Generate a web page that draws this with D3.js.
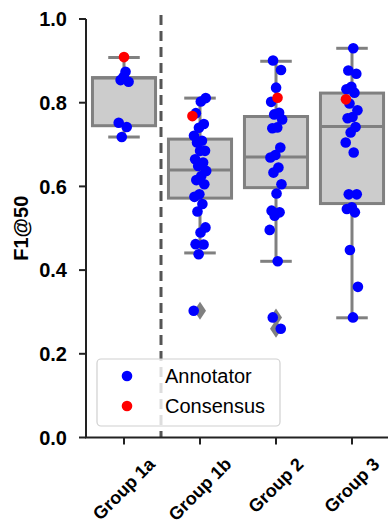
<!DOCTYPE html>
<html>
<head>
<meta charset="utf-8">
<script src="https://cdn.jsdelivr.net/npm/d3@7"></script>
<style>
  html, body { margin: 0; padding: 0; background: #fff; }
  svg { display: block; }
  text { font-family: "Liberation Sans", Arial, Helvetica, sans-serif; }
</style>
</head>
<body>
<svg id="chart" width="388" height="531"></svg>
<script>
// ---------------- data ----------------
const groups = ["Group 1a", "Group 1b", "Group 2", "Group 3"];
const yTicks = [0.0, 0.2, 0.4, 0.6, 0.8, 1.0];

// box statistics
const q1        = [0.745, 0.572, 0.597, 0.559];
const medians   = [0.859, 0.639, 0.670, 0.743];
const q3        = [0.860, 0.713, 0.767, 0.823];
const whiskerLo = [0.718, 0.441, 0.421, 0.286];
const whiskerHi = [0.908, 0.811, 0.899, 0.930];
const fliers1a = [];
const fliers1b = [0.303];
const fliers2  = [0.287, 0.260];
const fliers3  = [];

// annotator scores per group
const annot1a = [0.874, 0.854, 0.850, 0.862, 0.752, 0.742, 0.718];
const annot1b = [0.811, 0.803, 0.775, 0.749, 0.740, 0.721, 0.709, 0.705, 0.685, 0.685,
                 0.665, 0.657, 0.649, 0.637, 0.625, 0.615, 0.605, 0.581, 0.575, 0.558,
                 0.540, 0.502, 0.490, 0.462, 0.461, 0.438, 0.303];
const annot2  = [0.901, 0.878, 0.836, 0.802, 0.776, 0.772, 0.760, 0.741, 0.739, 0.693,
                 0.675, 0.669, 0.645, 0.633, 0.605, 0.583, 0.542, 0.538, 0.530, 0.496,
                 0.421, 0.287, 0.260];
const annot3  = [0.930, 0.877, 0.869, 0.838, 0.832, 0.824, 0.798, 0.782, 0.766, 0.763,
                 0.742, 0.729, 0.705, 0.681, 0.581, 0.581, 0.550, 0.546, 0.538, 0.448,
                 0.360, 0.287];
// consensus score per group
const consensus = [0.909, 0.768, 0.812, 0.808];

const legendLabels = ["Annotator", "Consensus"];

// ---------------- layout ----------------
const svg = d3.select("#chart");

const x = d3.scaleBand().domain(groups).range([86, 390]).paddingInner(0).paddingOuter(0);
const y = d3.scaleLinear().domain([0, 1]).range([437.5, 19]);

const boxW = x.bandwidth() * 0.83;
const grey = "#808080";
const boxFill = "#cccccc";
const annotColor = "#0000ff";
const consColor = "#ff0000";

const annots = [annot1a, annot1b, annot2, annot3];
const fliers = [fliers1a, fliers1b, fliers2, fliers3];

const cx = g => x(g) + x.bandwidth() / 2;

// dashed separator between Group 1a and Group 1b
svg.append("line")
  .attr("x1", x(groups[1]) - 1).attr("x2", x(groups[1]) - 1)
  .attr("y1", y(1) - 4).attr("y2", y(0))
  .attr("stroke", "#555").attr("stroke-width", 3)
  .attr("stroke-dasharray", "10,6");

// boxes
const boxG = svg.append("g");
groups.forEach((g, i) => {
  const c = cx(g);
  const gg = boxG.append("g");
  gg.append("line").attr("x1", c).attr("x2", c).attr("y1", y(q3[i])).attr("y2", y(whiskerHi[i]))
    .attr("stroke", grey).attr("stroke-width", 3);
  gg.append("line").attr("x1", c).attr("x2", c).attr("y1", y(q1[i])).attr("y2", y(whiskerLo[i]))
    .attr("stroke", grey).attr("stroke-width", 3);
  [whiskerHi[i], whiskerLo[i]].forEach(v => {
    gg.append("line").attr("x1", c - boxW / 4).attr("x2", c + boxW / 4)
      .attr("y1", y(v)).attr("y2", y(v))
      .attr("stroke", grey).attr("stroke-width", 3);
  });
  gg.append("rect")
    .attr("x", c - boxW / 2).attr("width", boxW)
    .attr("y", y(q3[i])).attr("height", y(q1[i]) - y(q3[i]))
    .attr("fill", boxFill).attr("stroke", grey).attr("stroke-width", 3);
  gg.append("line").attr("x1", c - boxW / 2).attr("x2", c + boxW / 2)
    .attr("y1", y(medians[i])).attr("y2", y(medians[i]))
    .attr("stroke", grey).attr("stroke-width", 3);
  fliers[i].forEach(v => {
    gg.append("path")
      .attr("d", "M0,-9L6,0L0,9L-6,0Z")
      .attr("transform", `translate(${c},${y(v)})`)
      .attr("fill", grey);
  });
});

// strip points (deterministic jitter)
const jitterW = x.bandwidth() * 0.085;
const jit = k => (((k * 0.6180339887) % 1) - 0.5) * 2 * jitterW;
const ptG = svg.append("g");
groups.forEach((g, i) => {
  const c = cx(g);
  ptG.selectAll(null).data(annots[i]).enter().append("circle")
    .attr("cx", (d, k) => c + jit(k + 1 + i * 7))
    .attr("cy", d => y(d))
    .attr("r", 5.3)
    .attr("fill", annotColor);
});
ptG.selectAll(null).data(consensus).enter().append("circle")
  .attr("cx", (d, i) => cx(groups[i]) + [0, -0.1, 0.02, -0.08][i] * x.bandwidth())
  .attr("cy", d => y(d))
  .attr("r", 5.3)
  .attr("fill", consColor);

// axes
const axisColor = "#222";
const yAxis = svg.append("g");
yAxis.append("line").attr("x1", 86).attr("x2", 86).attr("y1", y(1)).attr("y2", y(0))
  .attr("stroke", axisColor).attr("stroke-width", 2);
yTicks.forEach(t => {
  yAxis.append("line").attr("x1", 79).attr("x2", 86).attr("y1", y(t)).attr("y2", y(t))
    .attr("stroke", axisColor).attr("stroke-width", 2);
  yAxis.append("text").attr("x", 67).attr("y", y(t)).attr("dy", "0.36em")
    .attr("text-anchor", "end").attr("font-size", 20).attr("font-weight", "bold")
    .attr("fill", "#000").text(d3.format(".1f")(t));
});
svg.append("text")
  .attr("transform", `translate(28,${(y(0) + y(1)) / 2}) rotate(-90)`)
  .attr("text-anchor", "middle").attr("font-size", 20).attr("font-weight", "bold")
  .attr("fill", "#000").text("F1@50");

const xAxis = svg.append("g");
xAxis.append("line").attr("x1", 85).attr("x2", 390).attr("y1", y(0)).attr("y2", y(0))
  .attr("stroke", axisColor).attr("stroke-width", 2);
groups.forEach(g => {
  const c = cx(g);
  xAxis.append("line").attr("x1", c).attr("x2", c).attr("y1", y(0)).attr("y2", y(0) + 7)
    .attr("stroke", axisColor).attr("stroke-width", 2);
  const t = xAxis.append("text")
    .attr("text-anchor", "middle").attr("dominant-baseline", "central")
    .attr("font-size", 18).attr("font-weight", "bold").attr("fill", "#000")
    .text(g);
  const L = t.node().getComputedTextLength();
  const hgt = 20;
  const cy = 454 + (L + hgt) * Math.SQRT1_2 / 2;
  t.attr("transform", `translate(${c},${cy}) rotate(-45)`);
});

// legend
const lg = svg.append("g");
lg.append("rect").attr("x", 97).attr("y", 359).attr("width", 183).attr("height", 67)
  .attr("rx", 4).attr("fill", "#fff").attr("fill-opacity", 0.8)
  .attr("stroke", "#d0d0d0").attr("stroke-width", 1.2);
[annotColor, consColor].forEach((col, i) => {
  lg.append("circle").attr("cx", 127).attr("cy", 376 + i * 30).attr("r", 5.3).attr("fill", col);
  lg.append("text").attr("x", 165).attr("y", 376 + i * 30).attr("dy", "0.36em")
    .attr("font-size", 20).attr("fill", "#000").text(legendLabels[i]);
});
</script>
</body>
</html>
